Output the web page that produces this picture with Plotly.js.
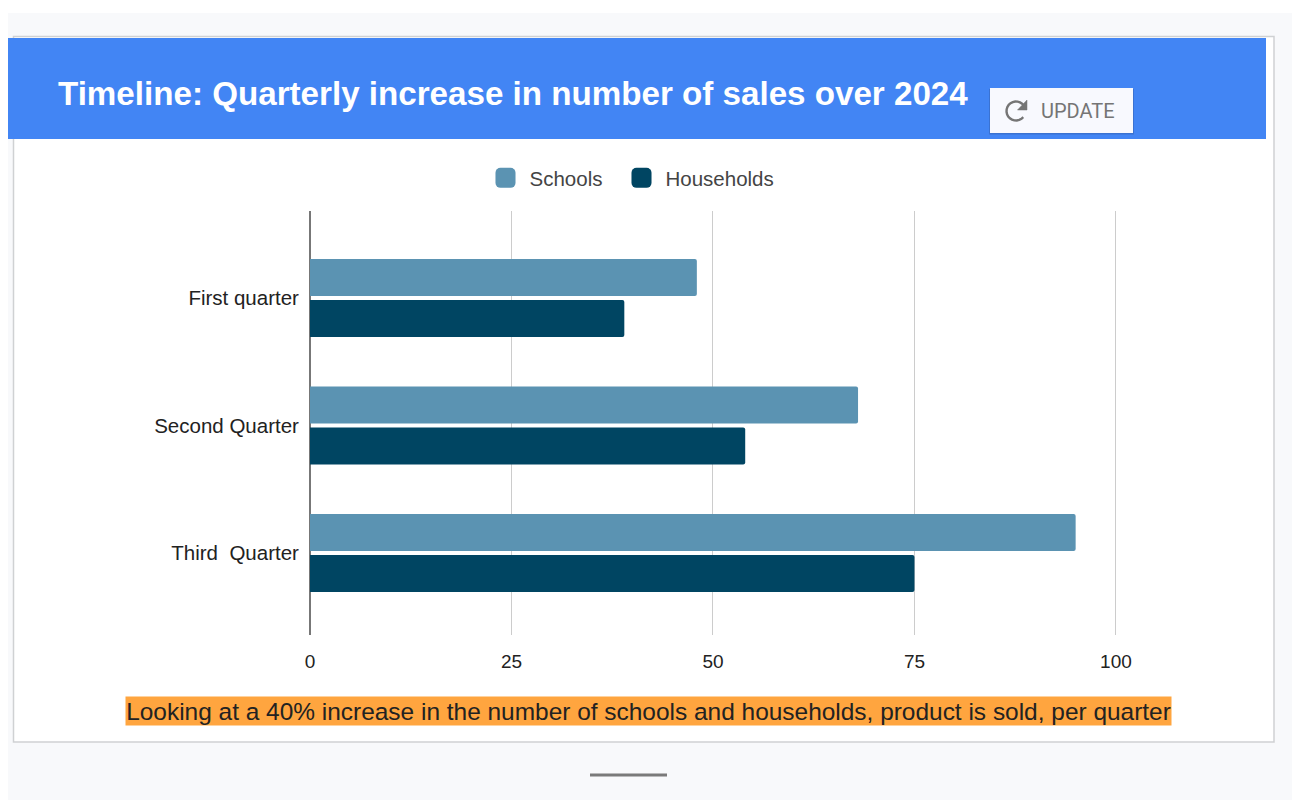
<!DOCTYPE html>
<html>
<head>
<meta charset="utf-8">
<script src="https://cdn.plot.ly/plotly-3.0.1.min.js"></script>
<style>
html,body{margin:0;padding:0;background:#fff;overflow:hidden}
#chart{width:1292px;height:800px}
.legend .legendpoints path{transform:translate(20px,0) scale(1.67)}
.legend .scrollbox{clip-path:none !important}
</style>
</head>
<body>
<div id="chart"></div>
<script>
const categories = ["First quarter", "Second Quarter", "Third\u00a0 Quarter"];
const schools = [48, 68, 95];
const households = [39, 54, 75];
const xTicks = [0, 25, 50, 75, 100];
const titleText = "Timeline: Quarterly increase in number of sales over 2024";
const noteText = "Looking at a 40% increase in the number of schools and households, product is sold, per quarter";

const W = 1292, H = 800;
const m = {l: 310, r: 168, t: 211, b: 165};
const px = x => (x - m.l) / (W - m.l - m.r);
const py = y => 1 - (y - m.t) / (H - m.t - m.b);
const rect = (x0, y0, x1, y1, fill, line, lw) => ({
  type: "rect", xref: "paper", yref: "paper", layer: "below",
  x0: px(x0), x1: px(x1), y0: py(y0), y1: py(y1),
  fillcolor: fill, line: {color: line || "rgba(0,0,0,0)", width: lw || 0}
});
const pathOf = pts => pts.map((p, i) => (i ? "L" : "M") + px(p[0]).toFixed(5) + "," + py(p[1]).toFixed(5)).join(" ");

// refresh icon on the button
const arc = [];
for (let a = -35; a >= -320; a -= 15) {
  const r = a * Math.PI / 180;
  arc.push([1016 + 9.5 * Math.cos(r), 111 + 9.5 * Math.sin(r)]);
}
const shapes = [
  rect(8, 13, 1292, 800, "#f8f9fb"),
  rect(13.5, 36.5, 1274, 742, "#ffffff", "#cfd1d3", 1.5),
  rect(8, 38, 1266, 139, "#4285f4"),
  rect(989, 89, 1134, 134.5, "rgba(30,50,90,0.22)"),
  rect(990, 88, 1133, 133, "#f8f9fe"),
  {type: "path", xref: "paper", yref: "paper", layer: "below", path: pathOf(arc),
   line: {color: "#757575", width: 2.4}},
  {type: "path", xref: "paper", yref: "paper", layer: "below",
   path: pathOf([[1027, 100], [1027, 110], [1017.5, 110]]) + " Z",
   fillcolor: "#757575", line: {color: "#757575", width: 0.5}},
  rect(590, 773.5, 667, 776.5, "#7a7a7a")
];

const font = "Liberation Sans, Arial, sans-serif";
const trace = (name, values, color) => ({
  type: "bar", orientation: "h", name: name, x: values, y: categories,
  marker: {color: color, line: {width: 0}, cornerradius: 2}, hoverinfo: "x+y+name"
});
const data = [trace("Schools", schools, "#5b93b2"), trace("Households", households, "#004562")];

const layout = {
  width: W, height: H, margin: {l: m.l, r: m.r, t: m.t, b: m.b, pad: 0},
  paper_bgcolor: "#ffffff", plot_bgcolor: "rgba(0,0,0,0)",
  barmode: "group", bargap: 0.357, bargroupgap: 0.1,
  font: {family: font, size: 20.5, color: "#222222"},
  showlegend: true,
  legend: {orientation: "h", x: px(485.5), y: py(158), xanchor: "left", yanchor: "top",
           traceorder: "normal", font: {family: font, size: 20.5, color: "#444444"},
           itemwidth: 34, entrywidth: 87, entrywidthmode: "pixels",
           bgcolor: "rgba(0,0,0,0)", itemclick: false, itemdoubleclick: false},
  xaxis: {range: [0, 101], tickmode: "array", tickvals: xTicks, ticktext: xTicks.map(String),
          showgrid: true, gridcolor: "#cccccc", gridwidth: 1,
          zeroline: true, zerolinecolor: "#777777", zerolinewidth: 2, showline: false,
          ticks: "outside", ticklen: 9, tickcolor: "rgba(0,0,0,0)",
          tickfont: {family: font, size: 19, color: "#222222"}, fixedrange: true},
  yaxis: {type: "category", range: [2.643, -0.682], categoryorder: "array", categoryarray: categories,
          showgrid: false, zeroline: false, showline: false,
          ticks: "outside", ticklen: 6, tickcolor: "rgba(0,0,0,0)",
          tickfont: {family: font, size: 20.5, color: "#222222"}, fixedrange: true},
  shapes: shapes,
  annotations: [
    {xref: "paper", yref: "paper", x: px(56), y: py(93), xanchor: "left", yanchor: "middle",
     text: "<b>" + titleText + "</b>", showarrow: false,
     font: {family: font, size: 33.17, color: "#ffffff"}},
    {xref: "paper", yref: "paper", x: px(1039), y: py(111.5), xanchor: "left", yanchor: "middle",
     text: "UPDATE", showarrow: false, font: {family: "Roboto, sans-serif", size: 20, color: "#757575"}},
    {xref: "paper", yref: "paper", x: px(648.5), y: py(710.5), xanchor: "center", yanchor: "middle",
     text: noteText, showarrow: false, width: 1045, height: 28, align: "center", bgcolor: "#ffa53f", borderpad: 0,
     font: {family: font, size: 24.45, color: "#222222"}}
  ]
};
Plotly.newPlot("chart", data, layout, {displayModeBar: false, responsive: false, staticPlot: false});
</script>
</body>
</html>
